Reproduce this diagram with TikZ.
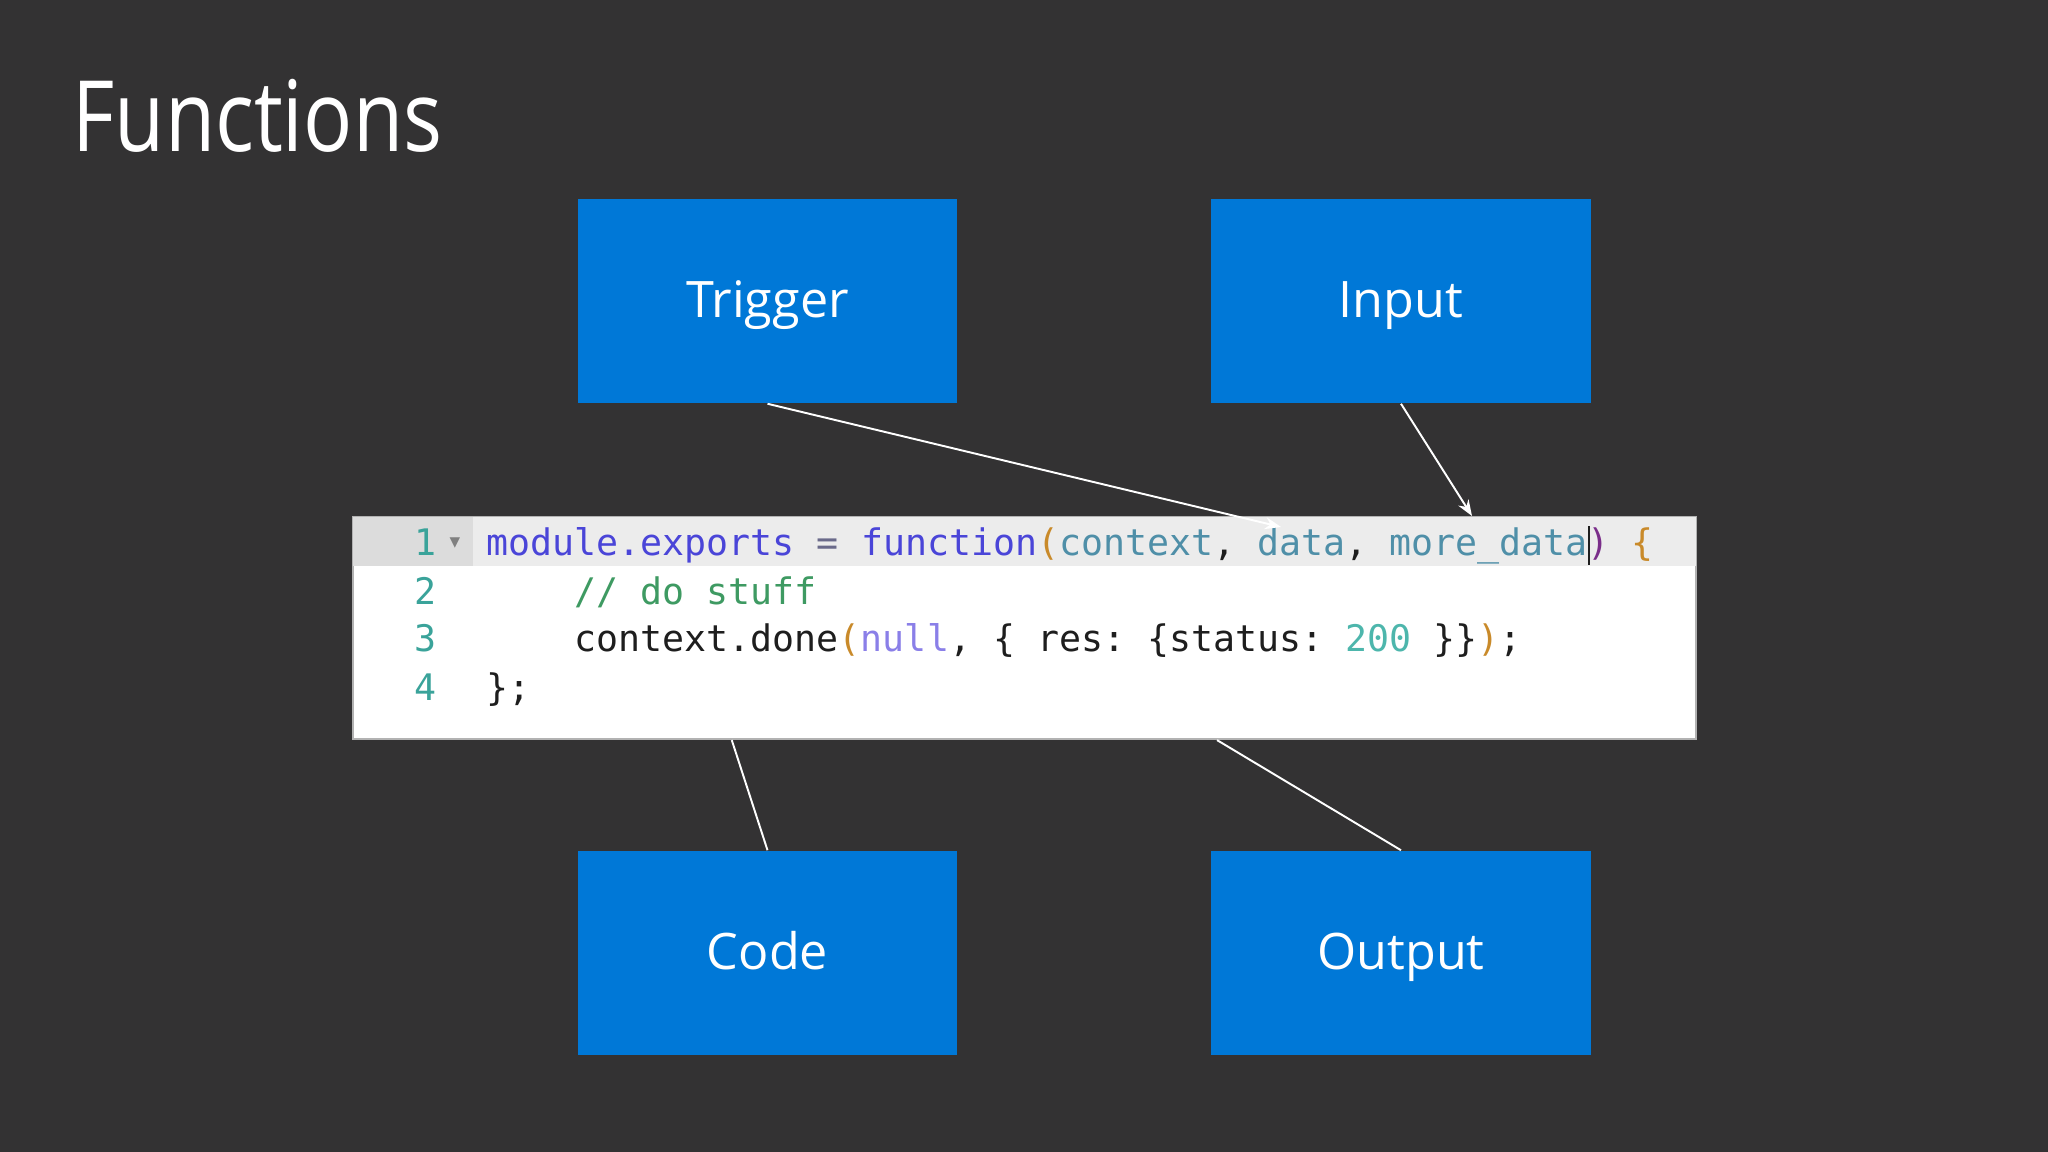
\documentclass[tikz,border=0pt]{standalone}
\usepackage{fontspec}
\setmainfont{Open Sans}
\setmonofont{DejaVu Sans Mono}
\newfontfamily\symfont{DejaVu Sans}
\newfontfamily\titlefont[FakeStretch=0.83]{Open Sans}
\definecolor{slateBg}{HTML}{333233}
\definecolor{azureBlue}{HTML}{0078D7}
\definecolor{gutterGrey}{HTML}{DCDCDC}
\definecolor{rowGrey}{HTML}{ECECEC}
\definecolor{codeInk}{HTML}{1E1E1E}
\definecolor{kwBlue}{HTML}{4A45D8}
\definecolor{argTeal}{HTML}{4F8FA8}
\definecolor{opGrey}{HTML}{6A6A8A}
\definecolor{brOrange}{HTML}{C98A2A}
\definecolor{brPurple}{HTML}{7A2E8A}
\definecolor{commentGreen}{HTML}{3E9A62}
\definecolor{nullPurple}{HTML}{8A7FE8}
\definecolor{numTeal}{HTML}{4DB6AC}
\definecolor{gutterTeal}{HTML}{3AA39A}
\usepackage{tikz}
\usetikzlibrary{arrows.meta, positioning}
\tikzset{
    fn box/.style={rectangle, fill=azureBlue, minimum width=3.79cm, minimum height=2.04cm, inner sep=0pt, text=white, text height=0.93em, text depth=0pt, font=\fontsize{14.3}{17}\selectfont},
    code panel/.style={rectangle, fill=white, draw=gray!60, line width=0.6pt, minimum width=13.43cm, minimum height=2.22cm, inner sep=0pt},
    code line/.style={anchor=base west, inner sep=0pt, text=codeInk, font=\fontsize{10.4}{12}\selectfont\ttfamily},
    line num/.style={anchor=base east, inner sep=0pt, text=gutterTeal, font=\fontsize{10.4}{12}\selectfont\ttfamily},
    title text/.style={anchor=base west, inner sep=0pt, text=white, font=\titlefont\fontsize{28}{34}\selectfont},
    arrow style/.style={-{Stealth[length=1.6mm, width=1.2mm]}, line width=0.55pt, white},
    link style/.style={line width=0.55pt, white},
}
\begin{document}
\begin{tikzpicture}[x=0.01cm, y=-0.01cm]
    \fill[slateBg] (0,0) rectangle (2048,1152);
    \useasboundingbox (0,0) rectangle (2048,1152);

    \node[title text] (title) at (72,152) {Functions};

    \node[fn box] (trigger) at (767.5,301) {Trigger};
    \node[fn box] (input) at (1401,301) {Input};
    \node[fn box] (code) at (767.5,953) {Code};
    \node[fn box] (output) at (1401,953) {Output};

    % editor snippet
    \node[code panel] (panel) at (1024.5,628) {};
    \fill[gutterGrey] ([shift={(0.3pt,-0.3pt)}]panel.north west) rectangle (473,566);
    \fill[rowGrey] (473,517.5) rectangle ([xshift=-0.3pt]panel.east |- 0,566);

    \node[line num] (n1) at (437,556) {1};
    \node[line num] (n2) at (437,604) {2};
    \node[line num] (n3) at (437,652) {3};
    \node[line num] (n4) at (437,700) {4};
    \node[inner sep=0pt, text=gray, font=\symfont\fontsize{6}{7}\selectfont] (fold) at (455,543) {▾};

    \node[code line] (l1) at (486,556) {\textcolor{kwBlue}{module.exports} \textcolor{opGrey}{=} \textcolor{kwBlue}{function}\textcolor{brOrange}{(}\textcolor{argTeal}{context}, \textcolor{argTeal}{data}, \textcolor{argTeal}{more\_data}\rlap{\rule[-2.5pt]{0.7pt}{11pt}}\textcolor{brPurple}{)} \textcolor{brOrange}{\{}};
    \node[code line] (l2) at (574,604) {\textcolor{commentGreen}{// do stuff}};
    \node[code line] (l3) at (574,652) {context.done\textcolor{brOrange}{(}\textcolor{nullPurple}{null}, \{ res: \{status: \textcolor{numTeal}{200} \}\}\textcolor{brOrange}{)};};
    \node[code line] (l4) at (486,700) {\};};

    % connectors
    \coordinate (trigTip) at (1281,527);
    \coordinate (inTip) at (1472,516);
    \coordinate (codeOut) at ([xshift=3.8cm]panel.south west);
    \coordinate (outOut) at ([xshift=8.65cm]panel.south west);

    \draw[arrow style] (trigger.south) -- (trigTip);
    \draw[arrow style] (input.south) -- (inTip);
    \draw[link style] (codeOut) -- (code.north);
    \draw[link style] (outOut) -- (output.north);
\end{tikzpicture}
\end{document}
